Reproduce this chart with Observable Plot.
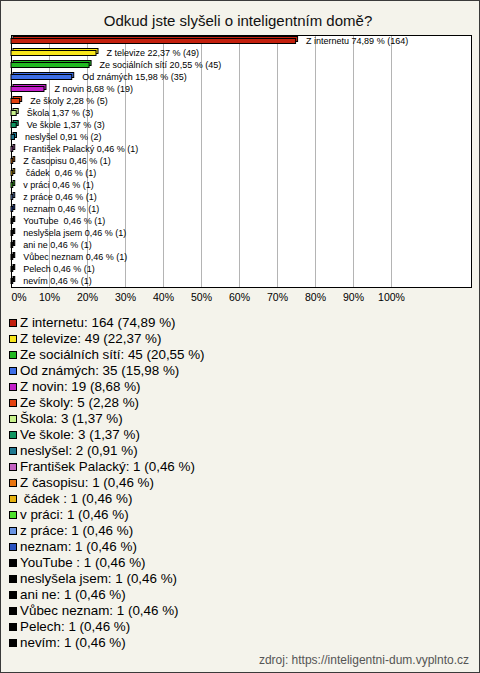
<!DOCTYPE html>
<html>
<head>
<meta charset="utf-8">
<script src="https://cdn.jsdelivr.net/npm/d3@7"></script>
<script src="https://cdn.jsdelivr.net/npm/@observablehq/plot@0.6"></script>
<style>
  html, body { margin: 0; padding: 0; background: #fff; }
  #wrap { position: relative; width: 480px; height: 673px; background: #f4f3eb; font-family: "Liberation Sans", Arial, sans-serif; overflow: hidden; }
  #border { position: absolute; left: 0; top: 0; width: 480px; height: 673px; box-sizing: border-box; border: 1px solid #3a3a3a; pointer-events: none; }
  #title { position: absolute; left: 0; width: 476px; top: 12px; line-height: 18px; font-size: 15px; text-align: center; color: #111; }
  #chart { position: absolute; left: 0; top: 0; }
  #chart svg text { white-space: pre; }
  .row { position: absolute; left: 0; height: 16px; line-height: 16px; font-size: 13.4px; color: #000; white-space: pre; }
  .sw { position: absolute; left: 9px; top: 4px; width: 6px; height: 6px; border: 1px solid #000; }
  .lt { position: absolute; left: 20px; top: 0; }
  #footer { position: absolute; right: 11px; top: 652px; font-size: 12px; line-height: 16px; color: #555; }
</style>
</head>
<body>
<div id="wrap">
  <div id="title">Odkud jste slyšeli o inteligentním domě?</div>
  <div id="chart"></div>
  <div id="legend"></div>
  <div id="footer">zdroj: https://inteligentni-dum.vyplnto.cz</div>
  <div id="border"></div>
</div>
<script>
const categories = ["Z internetu", "Z televize", "Ze sociálních sítí", "Od známých", "Z novin", "Ze školy", "Škola", "Ve škole", "neslyšel", "František Palacký", "Z časopisu", " čádek ", "v práci", "z práce", "neznam", "YouTube ", "neslyšela jsem", "ani ne", "Vůbec neznam", "Pelech", "nevím"];
const counts = [164, 49, 45, 35, 19, 5, 3, 3, 2, 1, 1, 1, 1, 1, 1, 1, 1, 1, 1, 1, 1];
const percents = [74.89, 22.37, 20.55, 15.98, 8.68, 2.28, 1.37, 1.37, 0.91, 0.46, 0.46, 0.46, 0.46, 0.46, 0.46, 0.46, 0.46, 0.46, 0.46, 0.46, 0.46];
const colors = ["#c3200d", "#f8e61c", "#22b822", "#3d6ee6", "#c21fc8", "#e3420f", "#c8f28c", "#0f9460", "#1f7890", "#c462c2", "#e8750f", "#e6b20f", "#4ee22e", "#6a94e2", "#2a52c0", "#000000", "#000000", "#000000", "#000000", "#000000", "#000000"];
const xTicks = [0, 10, 20, 30, 40, 50, 60, 70, 80, 90, 100];

const fmt = v => v.toFixed(2).replace(".", ",");
const data = categories.map((c, i) => ({cat: c, count: counts[i], pct: percents[i], color: colors[i]}));

const chart = Plot.plot({
  width: 480,
  height: 310,
  marginTop: 35,
  marginBottom: 23,
  marginLeft: 11,
  marginRight: 9,
  style: {background: "transparent", fontFamily: "Liberation Sans, Arial, sans-serif", color: "#000"},
  x: {domain: [0, 460 / 3.8], axis: null},
  y: {domain: categories, axis: null, padding: 0},
  color: {type: "identity"},
  marks: [
    Plot.frame({fill: "white"}),
    Plot.gridX(xTicks.slice(1), {stroke: "#b4b4b4", strokeOpacity: 1}),
    Plot.frame({stroke: "#000"}),
    Plot.rectX(data, {x: "pct", y: "cat", fill: "color", stroke: "#000", strokeWidth: 1, insetTop: 3.5, insetBottom: 3.5, dx: 2, dy: -2}),
    Plot.rectX(data, {x: "pct", y: "cat", fill: "color", stroke: "#000", strokeWidth: 1, insetTop: 3.5, insetBottom: 3.5}),
    Plot.text(data, {x: "pct", y: "cat", text: d => `${d.cat} ${fmt(d.pct)} % (${d.count})`, dx: 10, textAnchor: "start", fontSize: 9, fill: "#000"}),
    Plot.axisX(xTicks.slice(1), {tickSize: 0, tickPadding: 6, fontSize: 10.5, tickFormat: d => d + "%", fill: "#000", label: null}),
    Plot.axisX([0], {tickSize: 0, tickPadding: 6, fontSize: 10.5, tickFormat: d => d + "%", dx: 7.5, fill: "#000", label: null})
  ]
});
document.getElementById("chart").appendChild(chart);

const legend = document.getElementById("legend");
data.forEach((d, i) => {
  const row = document.createElement("div");
  row.className = "row";
  row.style.top = (315 + 16 * i) + "px";
  const sw = document.createElement("div");
  sw.className = "sw";
  sw.style.background = d.color;
  const t = document.createElement("div");
  t.className = "lt";
  t.textContent = `${d.cat}: ${d.count} (${fmt(d.pct)} %)`;
  row.appendChild(sw);
  row.appendChild(t);
  legend.appendChild(row);
});
</script>
</body>
</html>
